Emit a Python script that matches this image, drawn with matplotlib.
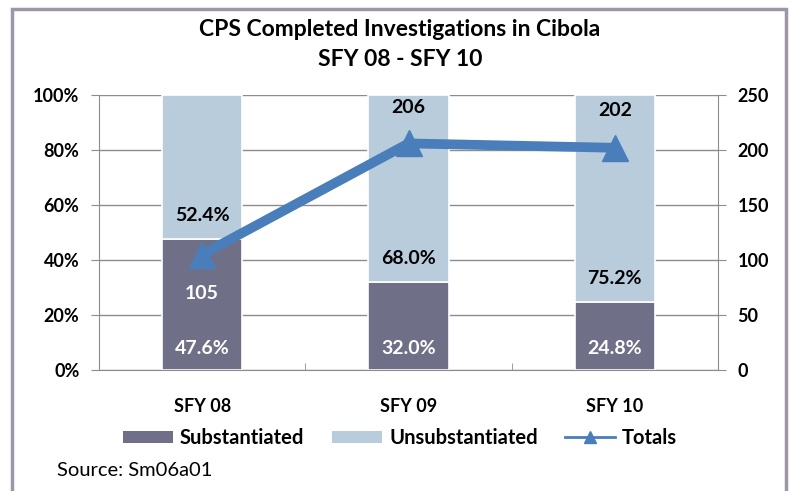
import matplotlib.pyplot as plt
from matplotlib.patches import Rectangle, Patch
from matplotlib.lines import Line2D
import numpy as np

plt.rcParams["font.family"] = ["Lato", "DejaVu Sans"]

years = ["SFY 08", "SFY 09", "SFY 10"]
substantiated = [47.6, 32.0, 24.8]
unsubstantiated = [52.4, 68.0, 75.2]
totals = [105, 206, 202]

DARK = "#6F6F88"
LIGHT = "#B8CCDC"
BLUE = "#4A7EBB"
GRID = "#8C8C8C"

fig = plt.figure(figsize=(7.93, 4.91), dpi=100)
fig.patches.append(Rectangle((12 / 793, -0.05), 774 / 793, 1.05 - 9 / 491,
                             transform=fig.transFigure, fill=False,
                             edgecolor="#9C96A6", linewidth=2.5))

fig.text(400 / 793, 1 - 30 / 491, "CPS Completed Investigations in Cibola",
         ha="center", va="center", fontsize=16.5, fontweight="bold")
fig.text(400 / 793, 1 - 59 / 491, "SFY 08 - SFY 10",
         ha="center", va="center", fontsize=16.5, fontweight="bold")
fig.text(57 / 793, 1 - 470 / 491, "Source: Sm06a01", ha="left", va="center",
         fontsize=14.5)

ax = fig.add_axes([99 / 793, 1 - 370 / 491, 619 / 793, 275 / 491])
x = np.arange(len(years))

ax.bar(x, substantiated, width=0.39, color=DARK, edgecolor="white",
       linewidth=1.2, zorder=2)
ax.bar(x, unsubstantiated, width=0.39, bottom=substantiated, color=LIGHT,
       edgecolor="white", linewidth=1.2, zorder=2)

ax.set_xlim(-0.5, 2.5)
ax.set_ylim(0, 100)
ax.set_yticks(range(0, 101, 20))
ax.set_yticklabels([f"{v}%" for v in range(0, 101, 20)])
ax.yaxis.grid(True, color=GRID, linewidth=1)
ax.set_axisbelow(True)
ax.set_xticks(x)
ax.set_xticklabels(years)
ax.set_xticks([0.5, 1.5], minor=True)
ax.tick_params(axis="x", which="major", length=0, pad=20)
ax.tick_params(axis="x", which="minor", length=5, color=GRID, direction="in")
ax.tick_params(axis="y", length=6, color=GRID, pad=8)
for s in ["top", "right"]:
    ax.spines[s].set_visible(False)
ax.spines["left"].set_color(GRID)
ax.spines["bottom"].set_color(GRID)
for lab in ax.get_xticklabels() + ax.get_yticklabels():
    lab.set_fontweight("bold")
    lab.set_fontsize(13)

# percentage labels
for i in range(len(years)):
    ax.text(x[i], 8, f"{substantiated[i]:.1f}%", ha="center", va="center",
            color="white", fontsize=14, fontweight="bold", zorder=5)
    ax.text(x[i], substantiated[i] + 8.5, f"{unsubstantiated[i]:.1f}%",
            ha="center", va="center", color="black", fontsize=14,
            fontweight="bold", zorder=5)

ax2 = ax.twinx()
ax2.set_ylim(0, 250)
ax2.set_yticks(range(0, 251, 50))
ax2.tick_params(axis="y", length=6, color=GRID, pad=8)
for s in ["top", "left", "bottom"]:
    ax2.spines[s].set_visible(False)
ax2.spines["right"].set_color(GRID)
for lab in ax2.get_yticklabels():
    lab.set_fontweight("bold")
    lab.set_fontsize(13)

ax2.plot(x, totals, color=BLUE, linewidth=7, marker="^", markersize=19,
         solid_capstyle="butt", zorder=4)

# totals labels: first one sits below the marker, others above
offsets = [-35, 33, 34]
colors = ["white", "black", "black"]
for i in range(len(years)):
    ax2.text(x[i], totals[i] + offsets[i], str(totals[i]), ha="center",
             va="center", color=colors[i], fontsize=14, fontweight="bold",
             zorder=6)

handles = [
    Patch(facecolor=DARK, edgecolor="none"),
    Patch(facecolor=LIGHT, edgecolor="none"),
    Line2D([0], [0], color=BLUE, linewidth=2, marker="^", markersize=9),
]
fig.legend(handles, ["Substantiated", "Unsubstantiated", "Totals"],
           loc="center", bbox_to_anchor=(400 / 793, 1 - 438 / 491), ncol=3,
           frameon=False, prop={"weight": "bold", "size": 14.5},
           handlelength=2.5, handleheight=0.6, columnspacing=1.35,
           handletextpad=0.35)

plt.savefig("out.png", dpi=100)
